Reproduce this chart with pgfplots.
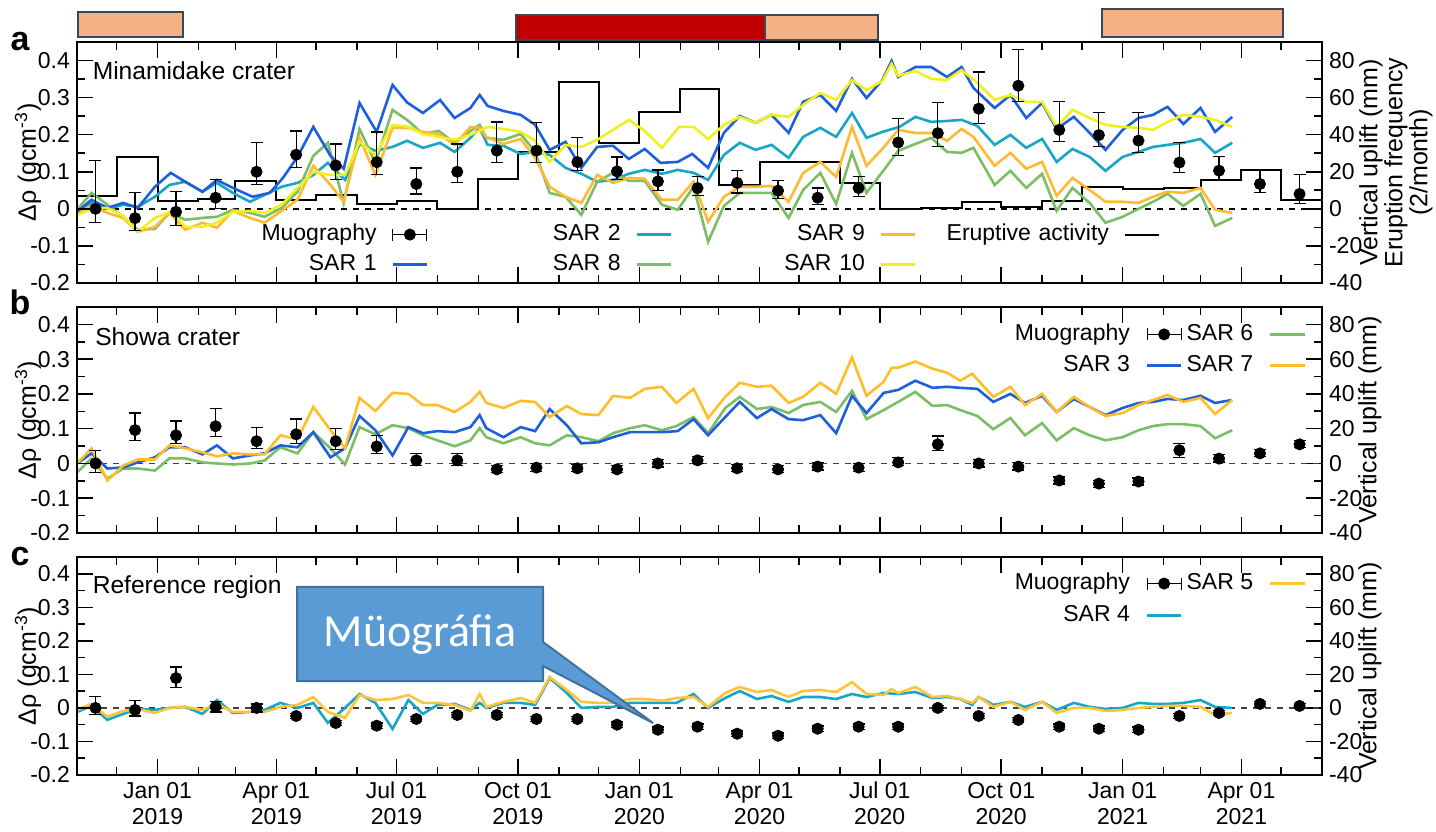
\documentclass[border=0pt]{standalone}
\usepackage{fontspec}
\setmainfont{Liberation Sans}
\newfontfamily\calibri{Carlito}
\usepackage{pgfplots}
\usepackage{pgfplotstable}
\pgfplotsset{compat=1.18}

\definecolor{sarblue}{HTML}{1E60DC}
\definecolor{sarcyan}{HTML}{18A6C8}
\definecolor{sargreen}{HTML}{7CBE64}
\definecolor{sarorange}{HTML}{FFB932}
\definecolor{saryellow}{HTML}{F0F01E}
\definecolor{sarorangeb}{HTML}{FFBE28}
\definecolor{sarorangec}{HTML}{FFC438}
\definecolor{barsalmon}{HTML}{F4B183}
\definecolor{barred}{HTML}{C00000}
\definecolor{barline}{HTML}{34495E}
\definecolor{callfill}{HTML}{5B9BD5}
\definecolor{callline}{HTML}{41719C}

\pgfplotstableread{
d   a      ap     am     b      bp     bm     c      cp     cm
14  0.000  0.130  0.037  0.000  0.038  0.026  0.000  0.033  0.020
44  -0.025 0.070  0.033  0.096  0.049  0.029  -0.006 0.027  0.018
75  -0.008 0.055  0.037  0.081  0.041  0.023  0.089  0.033  0.027
105 0.030  0.050  0.030  0.107  0.050  0.029  0.003  0.015  0.015
136 0.100  0.080  0.035  0.064  0.040  0.021  0.000  0.012  0.012
166 0.146  0.064  0.034  0.084  0.044  0.026  -0.024 0.008  0.008
196 0.117  0.058  0.038  0.064  0.037  0.024  -0.045 0.008  0.008
227 0.126  0.081  0.034  0.049  0.032  0.020  -0.053 0.008  0.008
257 0.067  0.043  0.027  0.009  0.020  0.015  -0.033 0.008  0.008
288 0.100  0.075  0.030  0.009  0.020  0.015  -0.021 0.008  0.008
318 0.157  0.077  0.031  -0.017 0.012  0.010  -0.021 0.008  0.008
348 0.157  0.075  0.031  -0.012 0.012  0.010  -0.033 0.008  0.008
379 0.126  0.067  0.023  -0.014 0.012  0.010  -0.033 0.008  0.008
409 0.101  0.039  0.022  -0.017 0.012  0.010  -0.050 0.008  0.008
440 0.074  0.031  0.024  0.000  0.012  0.010  -0.065 0.008  0.008
470 0.056  0.032  0.020  0.009  0.012  0.010  -0.056 0.008  0.008
500 0.070  0.033  0.027  -0.014 0.012  0.010  -0.077 0.008  0.008
531 0.049  0.027  0.022  -0.017 0.012  0.010  -0.083 0.008  0.008
561 0.030  0.026  0.019  -0.009 0.012  0.010  -0.062 0.008  0.008
592 0.056  0.032  0.022  -0.012 0.012  0.010  -0.056 0.008  0.008
622 0.179  0.064  0.035  0.003  0.014  0.010  -0.056 0.008  0.008
652 0.204  0.083  0.036  0.055  0.024  0.017  0.000  0.008  0.008
683 0.270  0.099  0.039  0.000  0.012  0.010  -0.024 0.008  0.008
713 0.332  0.098  0.042  -0.009 0.012  0.010  -0.036 0.008  0.008
744 0.213  0.077  0.031  -0.049 0.010  0.010  -0.056 0.008  0.008
774 0.199  0.061  0.031  -0.058 0.010  0.010  -0.062 0.008  0.008
804 0.184  0.076  0.032  -0.052 0.010  0.010  -0.065 0.008  0.008
835 0.125  0.054  0.027  0.038  0.020  0.020  -0.024 0.008  0.008
865 0.103  0.038  0.024  0.014  0.012  0.010  -0.015 0.008  0.008
896 0.067  0.036  0.022  0.029  0.012  0.010  0.012  0.008  0.008
926 0.040  0.052  0.026  0.055  0.012  0.010  0.006  0.008  0.008
}\muo

\pgfplotsset{
  base/.style={scale only axis, width=622.5pt, xmin=0, xmax=943,
    tick align=inside, major tick length=8pt, minor tick length=4pt,
    every tick/.style={black, line width=0.8pt},
    every minor tick/.style={black, line width=0.8pt},
    axis line style={line width=1pt},
    tick label style={font=\fontsize{11.5}{13}\selectfont},
    label style={font=\fontsize{12.5}{12.5}\selectfont},
    /pgf/number format/assume math mode=true,
    xtick={61,151,242,334,426,517,608,700,792,882},
    minor xtick={30,92,120,181,212,273,304,365,395,457,486,547,578,639,670,731,761,823,851,912},
  },
  leftax/.style={base, ymin=-0.2, ymax=0.45,
    ytick={-0.2,-0.1,0,0.1,0.2,0.3,0.4},
    yticklabels={-0.2,-0.1,0,0.1,0.2,0.3,0.4},
    minor ytick={-0.15,-0.05,0.05,0.15,0.25,0.35},
    ytick pos=left, xticklabels={},
    ylabel={Δρ (gcm\textsuperscript{-3})},
    ylabel style={at={(rel axis cs:0,0.5)}, anchor=center, yshift=24.5pt},
  },
  rightax/.style={base, ymin=-40, ymax=90, axis y line*=right, axis x line=none,
    ytick={-40,-20,0,20,40,60,80}, minor ytick={-30,-10,10,30,50,70},
    ylabel style={at={(rel axis cs:1,0.5)}, anchor=center, align=center},
  },
  muo/.style={black, only marks, mark=*, mark size=2.8pt, forget plot,
    error bars/.cd, y dir=both, y explicit,
    error bar style={line width=0.6pt, black},
    error mark options={rotate=90, mark size=3pt, line width=0.6pt, black}},
  sar/.style={line width=1.3pt, forget plot, no marks},
  muolegend/.style={legend image code/.code={
      \draw[black, line width=0.6pt] (0pt,0pt) -- (17pt,0pt);
      \draw[black, line width=0.6pt] (0pt,-3pt) -- (0pt,3pt) (17pt,-3pt) -- (17pt,3pt);
      \fill[black] (8.5pt,0pt) circle (2.8pt);}},
}

\begin{document}
\begin{tikzpicture}
\useasboundingbox (0,0) rectangle (718pt,415.5pt);

% ---------- top bars ----------
\draw[fill=barsalmon, draw=barline, line width=1pt] (39pt,397pt) rectangle (91.5pt,409.5pt);
\draw[fill=barred, draw=barline, line width=1pt] (258pt,395.5pt) rectangle (382.5pt,408pt);
\draw[fill=barsalmon, draw=barline, line width=1pt] (382.5pt,395.5pt) rectangle (439pt,408pt);
\draw[fill=barsalmon, draw=barline, line width=1pt] (550.8pt,396.75pt) rectangle (641.7pt,411pt);

\node[font=\fontsize{17}{17}\selectfont\bfseries] at (10pt,394.5pt) {a};
\node[font=\fontsize{17}{17}\selectfont\bfseries] at (10pt,264.5pt) {b};
\node[font=\fontsize{17}{17}\selectfont\bfseries] at (10pt,137pt) {c};

% ================= PANEL A =================
\begin{axis}[rightax, at={(38.5pt,274pt)}, anchor=south west, height=120.5pt,
  ylabel={Vertical uplift (mm)\\Eruption frequency\\(2/month)},
  ylabel style={yshift=-37pt},
  legend columns=4, legend plot pos=right,
  legend style={draw=none, fill=none, inner sep=0pt, outer sep=0pt,
    at={(0.870,0.263)}, anchor=north east,
    font=\fontsize{11.5}{13}\selectfont,
    nodes={text height=8.5pt, text depth=2.5pt, inner sep=2pt, text width=84pt, align=right},
    column sep=5.5pt, /tikz/every even column/.append style={column sep=10.2pt},
    row sep=0pt}]
\addplot[black, dashed, line width=0.7pt, forget plot] coordinates {(0,0) (943,0)};
\addplot[black, line width=1pt, const plot, forget plot] coordinates {
(0,7)(30,28)(61,4)(92,5.4)(120,14.8)(151,4.8)(181,7.6)(212,2.6)(242,4.4)(273,0)(304,16)(334,30.8)(365,68.2)(395,35.4)(426,52)(457,64.6)(486,13)(517,25.2)(547,25.2)(578,14.2)(608,0)(639,0.4)(670,3.6)(700,0.8)(731,4)(761,12)(792,10.6)(823,11.2)(851,15.6)(882,21)(912,4.8)(943,4.8)};
% SAR 2
\addplot[sar, sarcyan] coordinates {
(0,-1.6)(11,3.2)(23,0.0)(35,2.2)(46,1.1)(59,6.5)(70,12.9)(82,14.6)(95,9.2)(106,14.0)(118,8.6)(131,3.8)(142,7.5)(155,11.9)(167,14.0)(179,18.3)(190,24.8)(203,15.6)(214,35.0)(226,31.3)(239,33.4)(250,36.7)(262,32.9)(275,35.6)(286,30.7)(298,38.3)(305,43.7)(311,34.5)(323,34.0)(336,29.6)(347,30.7)(358,29.1)(370,22.1)(382,18.9)(394,14.6)(406,15.6)(418,18.9)(430,21.0)(443,18.9)(455,21.0)(467,19.4)(478,15.6)(490,29.1)(502,35.6)(514,31.8)(526,34.5)(539,27.5)(550,38.8)(563,43.7)(575,38.8)(587,51.7)(598,38.3)(610,41.5)(623,44.2)(635,49.6)(647,46.9)(659,47.4)(670,48.0)(682,44.7)(695,34.5)(707,39.9)(719,32.9)(731,37.7)(742,25.3)(754,32.3)(767,28.0)(779,20.5)(792,28.0)(804,30.7)(815,33.4)(826,34.5)(838,35.6)(851,37.7)(862,30.2)(875,35.6)};
% SAR 8
\addplot[sar, sargreen] coordinates {
(0,-0.5)(11,8.6)(23,2.2)(35,-4.3)(46,-11.3)(59,-10.8)(70,-2.2)(82,-5.9)(95,-4.9)(106,-4.3)(118,-0.5)(131,-2.2)(142,-4.3)(155,0.5)(167,9.2)(179,28.6)(190,35.6)(202,3.2)(214,43.1)(226,24.8)(239,53.4)(251,47.4)(262,40.4)(274,42.0)(286,35.6)(298,42.0)(305,45.3)(310,38.3)(323,37.2)(336,40.4)(347,30.7)(358,8.6)(370,6.5)(382,-3.2)(394,14.6)(406,19.4)(418,15.1)(430,15.1)(443,2.2)(455,-0.5)(467,11.9)(478,-17.8)(490,1.6)(502,8.6)(514,8.6)(526,8.6)(539,-4.9)(550,10.2)(563,19.4)(575,2.7)(587,30.2)(598,8.6)(610,19.9)(622,31.3)(635,35.0)(647,38.3)(659,30.7)(670,30.2)(679,32.9)(695,12.9)(707,20.5)(719,11.3)(731,18.9)(742,-1.1)(754,11.3)(767,3.2)(779,-7.5)(792,-4.3)(804,0.0)(815,3.8)(826,8.1)(838,1.6)(851,8.1)(862,-9.2)(875,-4.9)};
% SAR 9
\addplot[sar, sarorange] coordinates {
(0,-2.2)(11,1.6)(23,-2.2)(35,-4.9)(46,-12.4)(59,-9.7)(70,-2.2)(82,-11.3)(95,-7.5)(106,-10.2)(118,-1.1)(131,-4.9)(142,-7.5)(155,-1.1)(167,4.9)(179,23.2)(192,12.9)(202,3.8)(214,38.3)(226,18.3)(239,43.7)(251,43.7)(262,41.5)(274,40.4)(286,34.5)(298,44.2)(305,43.7)(310,38.8)(323,35.0)(336,37.7)(347,27.5)(358,11.9)(370,6.5)(382,3.2)(394,18.3)(406,14.0)(418,16.7)(430,16.2)(443,4.9)(455,4.9)(467,14.6)(478,-7.0)(490,6.5)(502,11.9)(514,11.9)(526,12.4)(539,3.8)(550,19.4)(563,25.3)(575,17.2)(587,44.2)(598,23.2)(610,32.3)(622,42.6)(635,40.9)(647,40.9)(659,36.7)(670,43.1)(679,38.8)(695,23.2)(707,30.2)(719,21.6)(731,25.3)(742,7.0)(754,16.7)(767,10.2)(779,3.8)(792,3.8)(804,3.2)(815,6.5)(826,9.2)(838,8.6)(851,11.3)(862,-0.5)(875,-2.2)};
% SAR 1
\addplot[sar, sarblue] coordinates {
(0,-1.6)(11,4.9)(23,0.5)(35,3.2)(46,0.5)(59,11.9)(71,19.4)(82,14.6)(95,9.2)(106,15.6)(118,11.3)(133,6.5)(146,8.6)(156,16.7)(167,28.0)(179,44.2)(192,28.6)(202,21.6)(214,57.1)(227,41.5)(239,66.8)(250,57.4)(262,51.7)(275,58.7)(286,49.0)(298,54.4)(305,61.4)(311,55.5)(323,52.8)(336,50.7)(347,45.3)(358,31.8)(370,36.1)(382,22.1)(394,33.4)(406,34.0)(418,26.9)(430,32.3)(442,24.8)(455,25.3)(466,29.6)(478,22.1)(490,41.0)(502,50.1)(514,46.4)(526,50.7)(539,41.0)(550,57.7)(563,61.4)(575,52.8)(587,70.1)(598,59.8)(610,69.5)(617,79.8)(622,71.1)(635,76.5)(647,76.5)(659,71.1)(670,76.5)(679,65.2)(695,54.4)(707,61.4)(719,49.0)(731,57.1)(742,43.1)(755,49.6)(767,41.0)(779,31.8)(792,42.6)(804,49.0)(815,50.7)(826,55.0)(838,45.8)(851,54.4)(862,41.5)(875,49.6)};
% SAR 10
\addplot[sar, saryellow] coordinates {
(0,-3.2)(12,0.0)(23,0.5)(35,-3.8)(46,-12.4)(59,-4.9)(71,-1.6)(82,-9.7)(95,-9.7)(106,-7.5)(118,-1.6)(131,-1.1)(142,-2.2)(155,2.2)(167,11.3)(179,19.9)(192,18.3)(203,18.3)(214,36.1)(226,29.1)(239,45.3)(251,44.2)(262,40.4)(274,38.8)(286,37.2)(298,39.9)(311,44.2)(323,43.1)(336,41.5)(347,36.7)(358,25.3)(370,34.5)(382,33.4)(394,37.2)(406,42.6)(418,48.0)(430,42.0)(443,32.9)(456,44.2)(467,44.2)(478,37.7)(490,45.3)(502,49.6)(514,46.4)(526,50.7)(539,49.6)(550,56.1)(563,62.5)(575,58.8)(587,69.5)(598,64.1)(610,69.0)(617,78.2)(622,71.7)(635,74.4)(647,70.1)(659,69.5)(670,74.9)(682,67.9)(695,58.8)(707,61.4)(719,57.7)(731,57.7)(742,44.2)(754,53.4)(767,49.0)(779,45.3)(792,44.2)(804,43.7)(815,42.6)(826,46.9)(838,50.7)(851,49.6)(862,48.0)(875,44.2)};
% legend
\addlegendimage{muolegend}\addlegendentry{Muography}
\addlegendimage{sarcyan, line width=1.3pt}\addlegendentry{SAR 2}
\addlegendimage{sarorange, line width=1.3pt}\addlegendentry{SAR 9}
\addlegendimage{black, line width=1pt}\addlegendentry{Eruptive activity}
\addlegendimage{sarblue, line width=1.3pt}\addlegendentry{SAR 1}
\addlegendimage{sargreen, line width=1.3pt}\addlegendentry{SAR 8}
\addlegendimage{saryellow, line width=1.3pt}\addlegendentry{SAR 10}
\end{axis}
\begin{axis}[leftax, at={(38.5pt,274pt)}, anchor=south west, height=120.5pt]
\addplot[muo] table[x=d, y=a, y error plus=ap, y error minus=am] {\muo};
\node[anchor=west, font=\fontsize{12.3}{14}\selectfont] at (rel axis cs:0.007,0.88) {Minamidake crater};
\end{axis}

% ================= PANEL B =================
\begin{axis}[rightax, at={(38.5pt,149pt)}, anchor=south west, height=113pt,
  ylabel={Vertical uplift (mm)}, ylabel style={yshift=-24pt},
  legend columns=2, legend plot pos=right, legend cell align=right,
  legend style={draw=none, fill=none, inner sep=0pt, outer sep=0pt,
    at={(0.987,0.945)}, anchor=north east,
    font=\fontsize{11.5}{13}\selectfont,
    nodes={text height=8.5pt, text depth=2.5pt, inner sep=2pt},
    column sep=6pt, /tikz/every even column/.append style={column sep=0pt},
    row sep=0.5pt}]
\addplot[black!75, dashed, line width=0.7pt, forget plot] coordinates {(0,0) (943,0)};
% SAR 6
\addplot[sar, sargreen] coordinates {
(0,-5.2)(11,2.9)(23,-8.7)(35,-2.9)(46,-2.9)(59,-4.1)(70,2.9)(82,2.9)(95,0.6)(106,0.0)(118,-0.6)(131,0.0)(142,1.7)(154,9.3)(167,5.8)(179,18.0)(192,8.7)(203,-0.6)(214,20.9)(226,16.8)(239,22.0)(251,20.3)(262,16.2)(273,13.3)(286,9.9)(298,13.3)(305,20.3)(310,15.1)(323,11.6)(336,15.1)(347,11.6)(358,10.4)(371,16.2)(382,15.1)(395,12.8)(406,17.4)(419,20.3)(430,22.0)(443,19.1)(454,21.5)(467,26.7)(478,17.4)(491,31.9)(502,38.3)(515,31.3)(526,32.5)(539,29.0)(550,33.6)(563,35.4)(575,29.6)(587,41.8)(598,25.5)(611,30.7)(622,35.4)(635,41.2)(648,33.1)(659,33.6)(669,30.7)(682,27.3)(694,19.7)(707,26.1)(718,16.2)(731,23.2)(742,13.3)(755,20.3)(767,16.2)(779,13.3)(792,15.1)(804,19.1)(815,21.5)(826,22.6)(838,22.6)(851,21.5)(862,14.5)(875,19.1)};
% SAR 3
\addplot[sar, sarblue] coordinates {
(0,0.0)(11,5.8)(23,-2.9)(35,-2.3)(46,0.6)(59,3.5)(70,9.3)(82,9.3)(95,5.2)(106,10.4)(118,2.9)(131,4.6)(142,5.8)(154,10.4)(167,9.3)(179,18.0)(192,3.5)(203,8.7)(214,27.3)(226,19.1)(239,4.6)(251,20.9)(262,17.4)(273,18.6)(286,18.0)(298,20.9)(305,27.8)(310,20.3)(323,15.1)(336,20.9)(347,18.6)(358,31.3)(371,22.0)(382,11.6)(395,12.2)(406,15.1)(419,18.0)(430,18.0)(443,18.0)(455,18.6)(467,25.5)(478,16.2)(491,26.7)(502,35.4)(515,26.1)(526,31.3)(539,25.5)(550,24.9)(563,27.8)(575,17.4)(587,38.9)(598,29.0)(611,40.6)(622,42.3)(635,47.6)(648,43.5)(659,44.1)(669,43.5)(682,42.9)(694,35.4)(707,40.0)(718,34.8)(731,38.9)(742,29.6)(755,37.1)(767,32.5)(779,27.8)(792,31.9)(804,34.8)(815,35.4)(826,37.1)(838,36.5)(851,38.9)(862,34.8)(875,36.5)};
% SAR 7
\addplot[sar, sarorangeb] coordinates {
(0,0.0)(11,8.7)(23,-9.9)(35,-1.2)(46,2.3)(59,2.3)(70,10.4)(82,8.7)(95,6.4)(106,4.1)(118,5.8)(131,5.2)(142,5.2)(154,16.2)(167,13.9)(179,32.5)(192,19.1)(203,8.7)(214,37.7)(226,30.2)(239,40.6)(251,40.0)(262,33.6)(273,33.6)(286,29.6)(298,35.4)(305,41.2)(310,34.8)(323,31.9)(336,36.0)(347,35.4)(358,26.7)(371,33.1)(382,28.4)(395,27.8)(406,38.9)(419,37.7)(430,42.9)(443,44.1)(454,34.8)(467,42.9)(478,26.1)(491,38.3)(502,46.4)(515,44.1)(526,44.7)(539,34.8)(550,38.3)(563,46.4)(575,40.0)(587,60.9)(598,38.9)(611,47.0)(617,55.1)(622,55.1)(635,58.6)(648,54.5)(659,52.2)(669,47.6)(678,51.6)(694,38.3)(707,44.1)(718,33.6)(731,40.0)(742,29.6)(755,38.3)(767,32.5)(779,27.3)(792,29.0)(804,33.6)(815,36.5)(826,39.4)(838,35.4)(851,37.7)(862,28.4)(875,36.5)};
\addlegendimage{muolegend}\addlegendentry{Muography}
\addlegendimage{sargreen, line width=1.3pt}\addlegendentry{SAR 6}
\addlegendimage{sarblue, line width=1.3pt}\addlegendentry{SAR 3}
\addlegendimage{sarorangeb, line width=1.3pt}\addlegendentry{SAR 7}
\end{axis}
\begin{axis}[leftax, at={(38.5pt,149pt)}, anchor=south west, height=113pt]
\addplot[muo] table[x=d, y=b, y error plus=bp, y error minus=bm] {\muo};
\node[anchor=west, font=\fontsize{12.3}{14}\selectfont] at (rel axis cs:0.009,0.867) {Showa crater};
\end{axis}

% ================= PANEL C =================
\begin{axis}[rightax, at={(38.5pt,28pt)}, anchor=south west, height=109pt,
  ylabel={Vertical uplift (mm)}, ylabel style={yshift=-24pt},
  legend columns=2, legend plot pos=right, legend cell align=right,
  legend style={draw=none, fill=none, inner sep=0pt, outer sep=0pt,
    at={(0.987,0.947)}, anchor=north east,
    font=\fontsize{11.5}{13}\selectfont,
    nodes={text height=8.5pt, text depth=2.5pt, inner sep=2pt},
    column sep=6pt, /tikz/every even column/.append style={column sep=0pt},
    row sep=1pt}]
\addplot[black!75, dashed, line width=0.7pt, forget plot] coordinates {(0,0) (943,0)};
% SAR 4
\addplot[sar, sarcyan] coordinates {
(0,-2.4)(11,1.2)(23,-7.1)(35,-3.6)(46,-0.6)(59,-1.2)(70,0.0)(82,0.6)(95,-3.6)(106,4.7)(118,-3.0)(131,-2.4)(142,-1.2)(154,3.0)(167,0.0)(179,3.0)(190,-8.9)(203,0.0)(214,8.3)(226,3.0)(239,-12.5)(251,4.7)(262,-3.6)(273,1.8)(286,2.4)(298,-1.2)(305,3.0)(310,0.0)(323,3.0)(336,3.0)(347,1.8)(358,17.8)(371,8.9)(382,0.0)(395,0.6)(406,0.6)(419,3.0)(430,3.0)(443,3.0)(454,3.0)(467,8.3)(478,0.0)(491,5.9)(502,10.1)(515,5.3)(526,7.1)(539,3.6)(550,6.5)(563,6.5)(575,5.3)(587,8.3)(598,6.5)(611,8.9)(622,8.3)(635,9.5)(648,5.9)(659,6.5)(669,5.3)(678,1.8)(683,6.5)(694,1.8)(707,3.6)(718,0.6)(731,3.6)(742,-1.2)(755,3.0)(767,0.6)(779,-0.6)(792,0.0)(804,3.0)(815,2.4)(826,2.4)(838,3.0)(851,4.7)(862,0.6)(875,0.0)};
% SAR 5
\addplot[sar, sarorangec] coordinates {
(0,-1.2)(11,2.4)(23,-5.3)(35,-1.8)(46,-0.6)(59,-3.0)(70,0.0)(82,0.6)(95,-1.2)(106,2.4)(118,-2.4)(131,-2.4)(142,-2.4)(154,0.6)(167,1.8)(179,6.5)(190,-2.4)(203,-5.9)(214,7.7)(226,4.7)(239,5.3)(251,7.7)(262,3.0)(273,3.0)(286,1.8)(298,-1.8)(305,8.3)(310,0.6)(323,3.6)(336,5.9)(347,3.0)(358,18.4)(371,10.7)(382,3.6)(395,3.0)(406,3.0)(419,5.3)(430,5.3)(443,4.2)(454,5.9)(467,6.5)(478,0.6)(491,8.9)(502,12.5)(515,9.5)(526,10.7)(539,6.5)(550,10.1)(563,10.7)(575,9.5)(587,15.4)(598,8.3)(611,7.7)(617,11.3)(622,8.9)(635,12.5)(648,6.5)(659,7.1)(669,5.3)(678,3.0)(683,6.5)(694,0.6)(707,3.6)(718,-1.2)(731,3.6)(742,-3.0)(755,0.0)(767,0.0)(779,-1.8)(792,-1.2)(804,0.0)(815,0.6)(826,1.2)(838,1.2)(851,0.6)(862,-4.2)(875,-3.0)};
\addlegendimage{muolegend}\addlegendentry{Muography}
\addlegendimage{sarorangec, line width=1.3pt}\addlegendentry{SAR 5}
\addlegendimage{sarcyan, line width=1.3pt}\addlegendentry{SAR 4}
\end{axis}
\begin{axis}[leftax, at={(38.5pt,28pt)}, anchor=south west, height=109pt,
  xticklabels={{Jan 01\\2019},{Apr 01\\2019},{Jul 01\\2019},{Oct 01\\2019},{Jan 01\\2020},{Apr 01\\2020},{Jul 01\\2020},{Oct 01\\2020},{Jan 01\\2021},{Apr 01\\2021}},
  xticklabel style={align=center}]
\addplot[muo] table[x=d, y=c, y error plus=cp, y error minus=cm] {\muo};
\node[anchor=west, font=\fontsize{12.3}{14}\selectfont] at (rel axis cs:0.007,0.862) {Reference region};
\end{axis}

% ---------- callout ----------
\draw[fill=callfill, draw=callline, line width=1pt]
  (148.5pt,122pt) -- (271.5pt,122pt) -- (271.5pt,94.5pt) -- (326.5pt,54pt)
  -- (271.5pt,82.5pt) -- (271.5pt,75pt) -- (148.5pt,75pt) -- cycle;
\node[text=white, font=\calibri\fontsize{23}{23}\selectfont] at (210pt,98pt) {Müográfia};
\end{tikzpicture}
\end{document}
